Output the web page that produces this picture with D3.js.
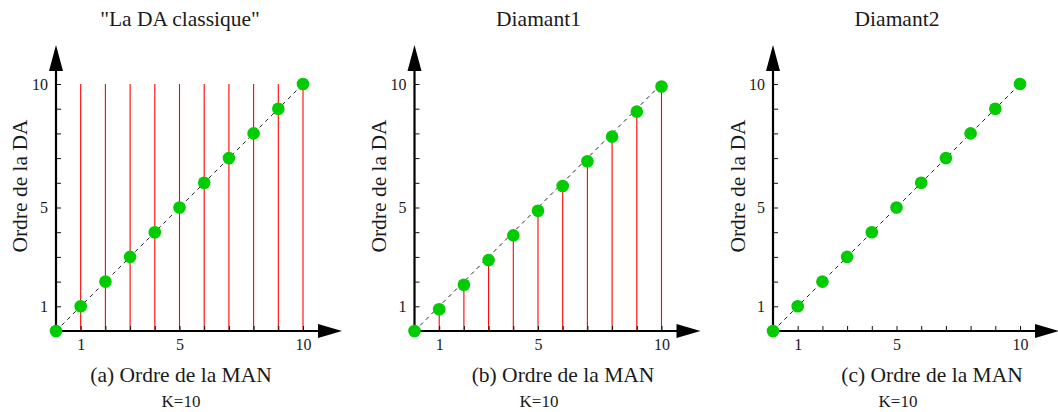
<!DOCTYPE html>
<html lang="en">
<head>
	<meta charset="utf-8">
	<title>Ordre DA / MAN</title>
	<style>
		body { margin: 0; background: #fff; }
		text { font-family: "Liberation Serif", "Times New Roman", serif; fill: #1a1a1a; }
	</style>
	<script type="text/javascript" src="https://d3js.org/d3.v7.min.js"></script>
</head>
<body>
	<script type="text/javascript">
            // data
            var ordreMAN = [0, 1, 2, 3, 4, 5, 6, 7, 8, 9, 10];
            var daClassique = [0, 1, 2, 3, 4, 5, 6, 7, 8, 9, 10];
            var diamant1 = [0, 0.88, 1.87, 2.87, 3.87, 4.87, 5.87, 6.87, 7.87, 8.88, 9.9];
            var diamant2 = [0, 1, 2, 3, 4, 5, 6, 7, 8, 9, 10];
            var tickValues = [1, 2, 3, 4, 5, 6, 7, 8, 9, 10];
            var tickLabels = [1, 5, 10];
            var titles = ["\"La DA classique\"", "Diamant1", "Diamant2"];
            var xLabels = ["(a) Ordre de la MAN", "(b) Ordre de la MAN", "(c) Ordre de la MAN"];
            var yLabel = "Ordre de la DA";
            var kLabel = "K=10";

            var w = 1058;
            var h = 412;
            var svg = d3.select("body")
                .append("svg")
                .attr("width", w)
                .attr("height", h);

            var panels = [
                { ox: 56, values: daClassique, stems: "full", title: titles[0], xl: xLabels[0], xlx: 181, kx: 181, ylx: 19 },
                { ox: 414.5, values: diamant1, stems: "point", title: titles[1], xl: xLabels[1], xlx: 563, kx: 539, ylx: 378 },
                { ox: 773, values: diamant2, stems: null, title: titles[2], xl: xLabels[2], xlx: 932, kx: 898, ylx: 737 }
            ];
            var oy = 331;
            var span = 247;
            var arrowLen = 286;

            panels.forEach(function (p) {
                var x = d3.scaleLinear().domain([0, 10]).range([p.ox, p.ox + span]);
                var y = d3.scaleLinear().domain([0, 10]).range([oy, oy - span]);
                var g = svg.append("g");

                // red stems
                if (p.stems) {
                    g.selectAll("line.stem")
                        .data(ordreMAN.slice(1))
                        .enter()
                        .append("line")
                        .attr("class", "stem")
                        .attr("x1", d => x(d))
                        .attr("x2", d => x(d))
                        .attr("y1", y(0))
                        .attr("y2", (d, i) => p.stems === "full" ? y(10) : y(p.values[i + 1]))
                        .attr("stroke", "#ff0000")
                        .attr("stroke-width", 1.1);
                }

                // dashed diagonal
                g.append("line")
                    .attr("x1", x(0)).attr("y1", y(0))
                    .attr("x2", x(10)).attr("y2", y(10))
                    .attr("stroke", "#222")
                    .attr("stroke-width", 1)
                    .attr("stroke-dasharray", "4,4");

                // ticks
                var xAxis = d3.axisBottom(x)
                    .tickValues(tickValues)
                    .tickSize(-5)
                    .tickPadding(8)
                    .tickFormat(d => tickLabels.includes(d) ? d : "");
                var yAxis = d3.axisLeft(y)
                    .tickValues(tickValues)
                    .tickSize(-5)
                    .tickPadding(8)
                    .tickFormat(d => tickLabels.includes(d) ? d : "");
                var gx = g.append("g")
                    .attr("transform", "translate(0," + oy + ")")
                    .call(xAxis);
                var gy = g.append("g")
                    .attr("transform", "translate(" + p.ox + ",0)")
                    .call(yAxis);
                [gx, gy].forEach(function (a) {
                    a.select(".domain").remove();
                    a.selectAll("line").attr("stroke", "#111");
                    a.selectAll("text")
                        .attr("font-size", "16px")
                        .attr("fill", "#1a1a1a");
                });

                // axis lines with arrow heads
                g.append("line")
                    .attr("x1", p.ox).attr("y1", oy)
                    .attr("x2", p.ox + arrowLen - 20).attr("y2", oy)
                    .attr("stroke", "#000").attr("stroke-width", 2.2);
                g.append("line")
                    .attr("x1", p.ox).attr("y1", oy)
                    .attr("x2", p.ox).attr("y2", oy - arrowLen + 20)
                    .attr("stroke", "#000").attr("stroke-width", 2.2);
                g.append("path")
                    .attr("d", "M" + (p.ox + arrowLen) + "," + oy +
                        "L" + (p.ox + arrowLen - 24) + "," + (oy - 7) +
                        "L" + (p.ox + arrowLen - 24) + "," + (oy + 7) + "Z")
                    .attr("fill", "#000");
                g.append("path")
                    .attr("d", "M" + p.ox + "," + (oy - arrowLen) +
                        "L" + (p.ox - 7) + "," + (oy - arrowLen + 26) +
                        "L" + (p.ox + 7) + "," + (oy - arrowLen + 26) + "Z")
                    .attr("fill", "#000");

                // dots
                g.selectAll("circle")
                    .data(ordreMAN)
                    .enter()
                    .append("circle")
                    .attr("cx", d => x(d))
                    .attr("cy", (d, i) => y(p.values[i]))
                    .attr("r", 6.3)
                    .attr("fill", "#00cc00");

                // texts
                g.append("text")
                    .text(p.title)
                    .attr("x", p.ox + 124)
                    .attr("y", 26)
                    .attr("font-size", "21.5px")
                    .attr("text-anchor", "middle");
                g.append("text")
                    .text(p.xl)
                    .attr("x", p.xlx)
                    .attr("y", 382)
                    .attr("font-size", "21.5px")
                    .attr("text-anchor", "middle");
                g.append("text")
                    .text(kLabel)
                    .attr("x", p.kx)
                    .attr("y", 407)
                    .attr("font-size", "17px")
                    .attr("text-anchor", "middle");
                g.append("text")
                    .text(yLabel)
                    .attr("transform", "translate(" + (p.ylx + 8) + ",186) rotate(-90)")
                    .attr("font-size", "21.5px")
                    .attr("text-anchor", "middle");
            });
        </script>
</body>
</html>
